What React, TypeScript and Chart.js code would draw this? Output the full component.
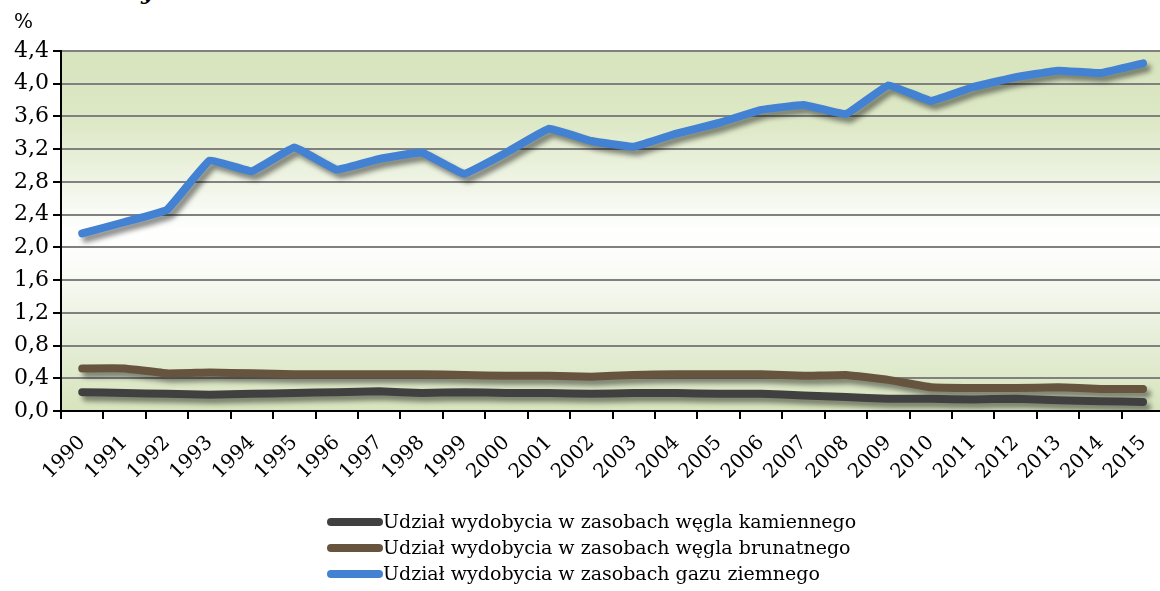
import React, { useEffect, useRef } from "react";
import { Chart, registerables } from "chart.js";

Chart.register(...registerables);

const years = [
  "1990", "1991", "1992", "1993", "1994", "1995", "1996", "1997", "1998", "1999",
  "2000", "2001", "2002", "2003", "2004", "2005", "2006", "2007", "2008", "2009",
  "2010", "2011", "2012", "2013", "2014", "2015",
];

const hardCoal = [
  0.23, 0.22, 0.21, 0.2, 0.21, 0.22, 0.23, 0.24, 0.22, 0.23,
  0.22, 0.22, 0.21, 0.22, 0.22, 0.21, 0.21, 0.19, 0.17, 0.15,
  0.15, 0.14, 0.15, 0.13, 0.12, 0.11,
];

const lignite = [
  0.52, 0.52, 0.46, 0.47, 0.46, 0.45, 0.45, 0.45, 0.45, 0.44,
  0.43, 0.43, 0.42, 0.44, 0.45, 0.45, 0.45, 0.43, 0.44, 0.38,
  0.29, 0.28, 0.28, 0.29, 0.27, 0.27,
];

const gas = [
  2.17, 2.31, 2.46, 3.06, 2.93, 3.22, 2.95, 3.08, 3.16, 2.9,
  3.16, 3.45, 3.3, 3.23, 3.39, 3.52, 3.68, 3.74, 3.63, 3.98,
  3.79, 3.96, 4.08, 4.16, 4.13, 4.25,
];

const seriesLabels = [
  "Udział wydobycia w zasobach węgla kamiennego",
  "Udział wydobycia w zasobach węgla brunatnego",
  "Udział wydobycia w zasobach gazu ziemnego",
];

const seriesColors = ["#404040", "#67543f", "#4381d3"];

const yMin = 0;
const yMax = 4.4;
const yStep = 0.4;
const yUnit = "%";
const titleFragment = "nyek";

const FONT = "'DejaVu Serif', serif";

export default function App() {
  const ref = useRef<HTMLCanvasElement | null>(null);

  useEffect(() => {
    if (!ref.current) return;

    const bgPlugin = {
      id: "bgGradient",
      beforeDraw(chart: any) {
        const { ctx, chartArea } = chart;
        if (!chartArea) return;
        const g = ctx.createLinearGradient(0, chartArea.top, 0, chartArea.bottom);
        g.addColorStop(0, "#d7e4bd");
        g.addColorStop(0.2, "#dde8c6");
        g.addColorStop(0.4, "#f3f7ec");
        g.addColorStop(0.5, "#ffffff");
        g.addColorStop(0.6, "#fbfcf8");
        g.addColorStop(0.8, "#e6eed8");
        g.addColorStop(1, "#d7e4bd");
        ctx.save();
        ctx.fillStyle = g;
        ctx.fillRect(chartArea.left, chartArea.top, chartArea.right - chartArea.left, chartArea.bottom - chartArea.top);
        ctx.restore();
      },
    };

    const shadowPlugin = {
      id: "lineShadow",
      beforeDatasetDraw(chart: any) {
        const ctx = chart.ctx;
        ctx.save();
        ctx.shadowColor = "rgba(0,0,0,0.45)";
        ctx.shadowBlur = 5;
        ctx.shadowOffsetX = 4;
        ctx.shadowOffsetY = 5;
      },
      afterDatasetDraw(chart: any) {
        chart.ctx.restore();
      },
    };

    const extrasPlugin = {
      id: "extras",
      afterDraw(chart: any) {
        const ctx = chart.ctx;
        ctx.save();
        ctx.fillStyle = "#000";
        ctx.font = `20px ${FONT}`;
        ctx.textAlign = "left";
        ctx.textBaseline = "alphabetic";
        ctx.fillText(yUnit, 14, 28);
        const x0 = 327;
        const lineLen = 56;
        const rowY = [522, 548, 574];
        ctx.font = `19px ${FONT}`;
        ctx.textBaseline = "middle";
        chart.data.datasets.forEach((ds: any, i: number) => {
          const y = rowY[i];
          ctx.strokeStyle = ds.borderColor;
          ctx.lineWidth = 8;
          ctx.lineCap = "round";
          ctx.beginPath();
          ctx.moveTo(x0 + 4, y);
          ctx.lineTo(x0 + lineLen - 4, y);
          ctx.stroke();
          ctx.fillStyle = "#000";
          ctx.fillText(ds.label, x0 + lineLen, y + 1);
        });
        ctx.restore();
      },
    };

    const chart = new Chart(ref.current, {
      type: "line",
      data: {
        labels: years,
        datasets: [hardCoal, lignite, gas].map((d, i) => ({
          label: seriesLabels[i],
          data: d,
          borderColor: seriesColors[i],
          backgroundColor: seriesColors[i],
          borderWidth: 8,
          borderCapStyle: "round",
          borderJoinStyle: "round",
          pointRadius: 0,
          pointHoverRadius: 0,
          tension: 0.08,
          fill: false,
        })),
      },
      options: {
        responsive: false,
        animation: false,
        events: [],
        layout: { padding: { top: 51, right: 1, left: 0, bottom: 0 } },
        plugins: {
          legend: { display: false },
          tooltip: { enabled: false },
          title: { display: false },
        },
        scales: {
          x: {
            type: "category",
            offset: true,
            grid: {
              display: true,
              drawOnChartArea: false,
              drawTicks: true,
              tickLength: 8,
              tickColor: "#000",
              tickWidth: 2,
              lineWidth: 2,
              offset: true,
            },
            border: { display: true, color: "#000", width: 2 },
            ticks: {
              autoSkip: false,
              maxRotation: 45,
              minRotation: 45,
              font: { family: FONT, size: 20 },
              color: "#000",
              padding: 12,
            },
            afterFit: (s: any) => {
              s.height = 180;
            },
          },
          y: {
            min: yMin,
            max: yMax,
            ticks: {
              stepSize: yStep,
              font: { family: FONT, size: 22 },
              color: "#000",
              padding: 4,
              callback: (v: any) => Number(v).toFixed(1).replace(".", ","),
            },
            grid: {
              color: "#808080",
              lineWidth: 2,
              tickColor: "#000",
              tickLength: 8,
            },
            border: { display: true, color: "#000", width: 2 },
            afterFit: (s: any) => {
              s.width = 61;
            },
          },
        },
      },
      plugins: [bgPlugin, shadowPlugin, extrasPlugin],
    } as any);

    return () => chart.destroy();
  }, []);

  return (
    <div
      style={{
        position: "fixed",
        left: 0,
        top: 0,
        width: 1160,
        height: 591,
        overflow: "hidden",
        background: "#fff",
      }}
    >
      <div
        style={{
          position: "absolute",
          left: 125,
          top: -23,
          fontFamily: FONT,
          fontWeight: "bold",
          fontStyle: "italic",
          fontSize: 22,
          lineHeight: "28px",
          color: "#000",
          whiteSpace: "nowrap",
        }}
      >
        {titleFragment}
      </div>
      <canvas
        ref={ref}
        width={1172}
        height={591}
        style={{ position: "absolute", left: 0, top: 0, width: 1172, height: 591 }}
      />
    </div>
  );
}
